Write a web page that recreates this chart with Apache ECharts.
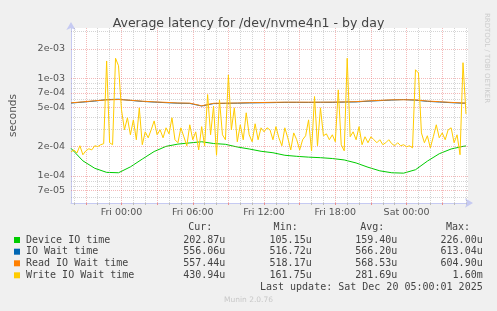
<!DOCTYPE html>
<html>
<head>
<meta charset="utf-8">
<script src="https://cdn.jsdelivr.net/npm/echarts@6/dist/echarts.min.js"></script>
<style>
  html, body { margin: 0; padding: 0; background: #f0f0f0; }
  #chart { width: 497px; height: 311px; }
</style>
</head>
<body>
<div id="chart"></div>
<script>
// hours counted from Fri 00:00
const hoursCoarse = [-4.25, -3.25, -2.25, -1.25, -0.25, 0.75, 1.75, 2.75, 3.75, 4.75, 5.75, 6.75,
  7.75, 8.75, 9.75, 10.75, 11.75, 12.75, 13.75, 14.75, 15.75, 16.75, 17.75, 18.75, 19.75, 20.75,
  21.75, 22.75, 23.75, 24.75, 25.75, 26.75, 27.75, 28.75, 29.0]
const writeStart = -4.25 // write series sampled every 15 min
const writeStep = 0.25

const deviceVals = [1.92e-4, 1.43e-4, 1.20e-4, 1.09e-4, 1.08e-4, 1.24e-4, 1.49e-4, 1.78e-4, 2.01e-4, 2.12e-4,
  2.18e-4, 2.24e-4, 2.15e-4, 2.11e-4, 1.98e-4, 1.89e-4, 1.79e-4, 1.73e-4, 1.63e-4, 1.59e-4,
  1.56e-4, 1.54e-4, 1.51e-4, 1.46e-4, 1.36e-4, 1.23e-4, 1.13e-4, 1.08e-4, 1.07e-4, 1.16e-4,
  1.42e-4, 1.69e-4, 1.89e-4, 2.01e-4, 2.03e-4]
const ioWaitVals = [5.57e-4, 5.70e-4, 5.84e-4, 6.04e-4, 6.10e-4, 5.93e-4, 5.79e-4, 5.70e-4, 5.62e-4, 5.55e-4,
  5.52e-4, 5.20e-4, 5.50e-4, 5.53e-4, 5.55e-4, 5.59e-4, 5.61e-4, 5.63e-4, 5.66e-4, 5.66e-4,
  5.65e-4, 5.67e-4, 5.66e-4, 5.70e-4, 5.72e-4, 5.82e-4, 5.90e-4, 5.98e-4, 6.05e-4, 5.96e-4,
  5.80e-4, 5.71e-4, 5.62e-4, 5.55e-4, 5.56e-4]
const readVals = [5.60e-4, 5.73e-4, 5.88e-4, 6.00e-4, 6.05e-4, 5.95e-4, 5.82e-4, 5.73e-4, 5.66e-4, 5.58e-4,
  5.56e-4, 5.22e-4, 5.54e-4, 5.56e-4, 5.58e-4, 5.62e-4, 5.64e-4, 5.67e-4, 5.69e-4, 5.69e-4,
  5.69e-4, 5.69e-4, 5.70e-4, 5.72e-4, 5.76e-4, 5.86e-4, 5.93e-4, 6.01e-4, 6.02e-4, 6.00e-4,
  5.84e-4, 5.75e-4, 5.66e-4, 5.58e-4, 5.57e-4]
const writeVals = [
  1.77e-4, 1.85e-4, 1.72e-4, 2.04e-4, 1.65e-4, 1.81e-4, 1.90e-4, 1.85e-4, 2.04e-4, 2.00e-4,
  2.09e-4, 2.14e-4, 1.50e-3, 2.19e-4, 2.09e-4, 1.60e-3, 1.34e-3, 4.75e-4, 2.97e-4, 3.94e-4,
  2.64e-4, 3.75e-4, 2.35e-4, 4.98e-4, 2.09e-4, 2.83e-4, 2.46e-4, 2.97e-4, 3.66e-4, 2.64e-4,
  2.97e-4, 2.46e-4, 3.11e-4, 2.70e-4, 3.94e-4, 2.35e-4, 2.19e-4, 3.11e-4, 2.52e-4, 2.04e-4,
  3.34e-4, 2.35e-4, 2.83e-4, 1.85e-4, 3.20e-4, 2.04e-4, 6.80e-4, 2.64e-4, 5.20e-4, 1.63e-4,
  6.00e-4, 2.64e-4, 2.35e-4, 1.08e-3, 2.97e-4, 4.98e-4, 2.24e-4, 3.34e-4, 2.35e-4, 4.43e-4,
  2.64e-4, 2.24e-4, 3.42e-4, 2.35e-4, 3.11e-4, 2.83e-4, 3.11e-4, 2.97e-4, 2.35e-4, 3.20e-4,
  2.46e-4, 2.04e-4, 3.11e-4, 2.46e-4, 1.85e-4, 2.76e-4, 2.35e-4, 1.85e-4, 2.35e-4, 2.58e-4,
  3.75e-4, 1.80e-4, 6.50e-4, 2.04e-4, 4.98e-4, 2.58e-4, 2.70e-4, 2.35e-4, 2.64e-4, 2.24e-4,
  7.60e-4, 2.09e-4, 1.81e-4, 1.60e-3, 2.52e-4, 2.83e-4, 2.35e-4, 3.20e-4, 2.09e-4, 2.52e-4,
  2.19e-4, 2.52e-4, 2.35e-4, 2.19e-4, 2.35e-4, 2.09e-4, 2.19e-4, 2.35e-4, 2.14e-4, 2.04e-4,
  2.19e-4, 2.04e-4, 2.09e-4, 1.99e-4, 2.04e-4, 1.94e-4, 1.22e-3, 1.13e-3, 2.76e-4, 2.19e-4,
  2.58e-4, 1.94e-4, 2.52e-4, 3.34e-4, 2.46e-4, 2.76e-4, 2.35e-4, 2.97e-4, 3.11e-4, 2.19e-4,
  2.64e-4, 1.65e-4, 1.44e-3, 4.31e-4]

const seriesNames = ['Device IO time', 'IO Wait time', 'Read IO Wait time', 'Write IO Wait time']
const seriesColors = ['#00cc00', '#0066b3', '#ff8000', '#ffcc00']
const curVals = ['202.87u', '556.06u', '557.44u', '430.94u']
const minVals = ['105.15u', '516.72u', '518.17u', '161.75u']
const avgVals = ['159.40u', '566.20u', '568.53u', '281.69u']
const maxVals = ['226.00u', '613.04u', '604.90u', '1.60m']

const xLabelHours = [0, 6, 12, 18, 24]
const xLabels = ['Fri 00:00', 'Fri 06:00', 'Fri 12:00', 'Fri 18:00', 'Sat 00:00']
const yLabelVals = [7e-5, 1e-4, 2e-4, 5e-4, 7e-4, 1e-3, 2e-3]
const yLabels = ['7e-05', '1e-04', '2e-04', '5e-04', '7e-04', '1e-03', '2e-03']
const yMinorVals = [6e-5, 8e-5, 9e-5, 3e-4, 4e-4, 6e-4, 8e-4, 9e-4, 3e-3]

const Y_MIN = 5.3e-5
const Y_MAX = 3.26e-3
const AXIS = '#c6caf2'
const MINOR = 'rgba(160,160,160,0.45)'
const MAJOR = 'rgba(230,100,100,0.45)'
const SANS = 'DejaVu Sans'
const MONO = 'DejaVu Sans Mono'

const hourTicks = []
for (let h = -4; h <= 29; h++) hourTicks.push(h)
const threeHourTicks = hourTicks.filter(h => h % 3 === 0)

const chart = echarts.init(document.getElementById('chart'))

// grid lines as mark lines on a helper axis that holds log10 of the values
const gridLines = []
hourTicks.forEach(h => gridLines.push({
  xAxis: h, label: {show: false},
  lineStyle: {color: h % 3 === 0 ? MAJOR : MINOR, type: 'dotted', width: 1}
}))
yMinorVals.forEach(v => gridLines.push({
  yAxis: Math.log10(v), label: {show: false},
  lineStyle: {color: MINOR, type: 'dotted', width: 1}
}))
yLabelVals.forEach((v, i) => gridLines.push({
  yAxis: Math.log10(v),
  lineStyle: {color: MAJOR, type: 'dotted', width: 1},
  label: {show: true, position: 'start', distance: 6, formatter: yLabels[i],
    color: '#555', fontSize: 9.5, fontFamily: SANS}
}))

const pairs = (hours, vals) => vals.map((v, i) => [hours[i], v])
const lineSeries = (i, data) => ({
  name: seriesNames[i], type: 'line', data: data, z: 3 + i,
  showSymbol: false, symbol: 'none', smooth: false,
  lineStyle: {color: seriesColors[i], width: 1},
  itemStyle: {color: seriesColors[i]},
  animation: false
})

// legend / stats table
const graphics = []
const colRight = [225.3, 311.7, 397.3, 482.7]
const headRight = [212.3, 297.7, 384.3, 470]
const heads = ['Cur:', 'Min:', 'Avg:', 'Max:']
const rowY = [240, 251.7, 263.3, 275.3]
const txt = (text, x, y, align, extra) => Object.assign({
  type: 'text', x: x, y: y, silent: true,
  style: Object.assign({text: text, fill: '#444', font: '10px ' + MONO, align: align, verticalAlign: 'middle'}, extra || {})
})
heads.forEach((t, c) => graphics.push(txt(t, headRight[c], 227.7, 'right')))
seriesNames.forEach((name, r) => {
  graphics.push({type: 'rect', silent: true, shape: {x: 14, y: rowY[r] - 3, width: 6, height: 6},
    style: {fill: seriesColors[r]}})
  graphics.push(txt(name, 26, rowY[r], 'left'))
  const stats = [curVals[r], minVals[r], avgVals[r], maxVals[r]]
  stats.forEach((s, c) => graphics.push(txt(s, colRight[c], rowY[r], 'right')))
})
graphics.push(txt('Last update: Sat Dec 20 05:00:01 2025', 482.7, 287.7, 'right'))
graphics.push(txt('Munin 2.0.76', 248.5, 300, 'center', {fill: '#c8c8c8', font: '7.5px ' + SANS}))
graphics.push({type: 'text', x: 487, y: 58, rotation: -Math.PI / 2, silent: true,
  style: {text: 'RRDTOOL / TOBI OETIKER', fill: '#cccccc', font: '7px ' + SANS, align: 'center', verticalAlign: 'middle'}})

chart.setOption({
  backgroundColor: '#f0f0f0',
  animation: false,
  title: {
    text: 'Average latency for /dev/nvme4n1 - by day',
    left: 'center', top: 12,
    textStyle: {fontSize: 12.5, fontWeight: 'normal', color: '#444', fontFamily: SANS}
  },
  grid: {left: 67, right: 29, top: 28, bottom: 108, show: true, backgroundColor: '#ffffff', borderWidth: 0},
  xAxis: [{
    type: 'value', min: -4.25, max: 29.17,
    axisLine: {show: true, onZero: false, lineStyle: {color: AXIS, width: 1},
      symbol: ['none', 'arrow'], symbolSize: [7, 8], symbolOffset: [0, 5]},
    axisTick: {show: true, customValues: hourTicks, length: 2, lineStyle: {color: '#bbbbbb'}},
    axisLabel: {customValues: xLabelHours, formatter: v => xLabels[xLabelHours.indexOf(v)],
      color: '#555', fontSize: 9.5, fontFamily: SANS, margin: 5},
    splitLine: {show: false}
  }, {
    type: 'value', min: -4.25, max: 29.17, position: 'bottom',
    axisLine: {show: false},
    axisTick: {show: true, customValues: threeHourTicks, length: 2, lineStyle: {color: '#e89090'}},
    axisLabel: {show: false},
    splitLine: {show: false}
  }],
  yAxis: [{
    type: 'log', logBase: 10, min: Y_MIN, max: Y_MAX,
    name: 'seconds', nameLocation: 'middle', nameGap: 52,
    nameTextStyle: {color: '#555', fontSize: 10.5, fontFamily: SANS},
    axisLine: {show: true, onZero: false, lineStyle: {color: AXIS, width: 1},
      symbol: ['none', 'arrow'], symbolSize: [7, 8], symbolOffset: [0, 6]},
    axisTick: {show: false},
    axisLabel: {show: false},
    splitLine: {show: false}
  }, {
    type: 'value', show: false, min: Math.log10(Y_MIN), max: Math.log10(Y_MAX)
  }],
  series: [
    {type: 'line', data: [], z: 1, silent: true, yAxisIndex: 1,
      markLine: {silent: true, symbol: ['none', 'none'], animation: false, data: gridLines}},
    lineSeries(0, pairs(hoursCoarse, deviceVals)),
    lineSeries(1, pairs(hoursCoarse, ioWaitVals)),
    lineSeries(2, pairs(hoursCoarse, readVals)),
    lineSeries(3, writeVals.map((v, i) => [writeStart + i * writeStep, v]))
  ],
  graphic: graphics
})
</script>
</body>
</html>
